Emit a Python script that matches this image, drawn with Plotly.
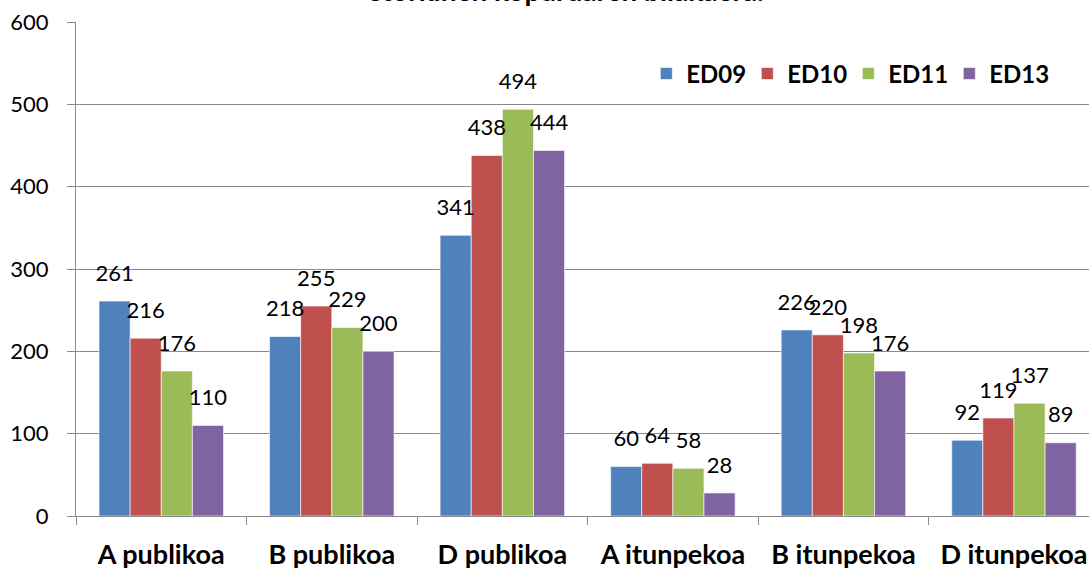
import plotly.graph_objects as go

categories = ["A publikoa", "B publikoa", "D publikoa", "A itunpekoa", "B itunpekoa", "D itunpekoa"]
series_names = ["ED09", "ED10", "ED11", "ED13"]
ed09 = [261, 218, 341, 60, 226, 92]
ed10 = [216, 255, 438, 64, 220, 119]
ed11 = [176, 229, 494, 58, 198, 137]
ed13 = [110, 200, 444, 28, 176, 89]
y_ticks = [0, 100, 200, 300, 400, 500, 600]
title_text = "etorkinen kopuruaren bilakaera."

series_values = [ed09, ed10, ed11, ed13]
colors = ["#4F81BD", "#C0504D", "#9BBB59", "#8064A2"]
FONT = "Lato"

fig = go.Figure()
for name, vals, col in zip(series_names, series_values, colors):
    fig.add_trace(go.Bar(
        x=categories, y=vals, name=name,
        marker=dict(color=col, line=dict(color="rgba(255,255,255,0.6)", width=1)),
    ))
for name, vals in zip(series_names, series_values):
    fig.add_trace(go.Scatter(
        x=categories, y=vals, mode="markers+text", text=[str(v) for v in vals],
        textposition="top center",
        textfont=dict(family=FONT, size=22, color="#000000"),
        marker=dict(size=22, color="rgba(0,0,0,0)"),
        showlegend=False, hoverinfo="skip", cliponaxis=False,
    ))

fig.add_annotation(
    text="<b>" + title_text + "</b>", xref="paper", yref="paper",
    x=0.483, y=1, xanchor="center", yanchor="bottom", yshift=13,
    showarrow=False, font=dict(family=FONT, size=28, color="#000000"),
)

grid_col = "#8a8a8a"
fig.update_layout(
    width=1089, height=570,
    margin=dict(l=76, r=0, t=22, b=51),
    paper_bgcolor="white", plot_bgcolor="white",
    barmode="group", bargap=0.27, bargroupgap=0,
    scattermode="group", scattergap=0.27,
    font=dict(family=FONT, color="#000000"),
    legend=dict(orientation="h", x=0.563, xanchor="left", y=0.895, yanchor="middle",
                font=dict(family=FONT, size=24, color="#000000", weight="bold"),
                entrywidth=56, entrywidthmode="pixels",
                bgcolor="rgba(0,0,0,0)", itemclick=False),
    xaxis=dict(
        type="category", range=[-0.5, 5.44],
        showline=True, linecolor=grid_col, linewidth=1,
        ticks="outside", tickson="boundaries", ticklen=8, tickcolor=grid_col,
        showgrid=False,
        tickfont=dict(family=FONT, size=27, color="#000000", weight="bold"),
        ticklabelstandoff=15,
    ),
    yaxis=dict(
        range=[0, 600], tickvals=y_ticks,
        showline=True, linecolor=grid_col, linewidth=1,
        ticks="outside", ticklen=8, tickcolor=grid_col,
        showgrid=True, gridcolor=grid_col, gridwidth=1,
        zeroline=False,
        tickfont=dict(family=FONT, size=22, color="#000000"),
        ticklabelstandoff=14,
    ),
)

fig.write_html("out.html", config={"displayModeBar": False},
               post_script="document.body.style.margin='0';")
